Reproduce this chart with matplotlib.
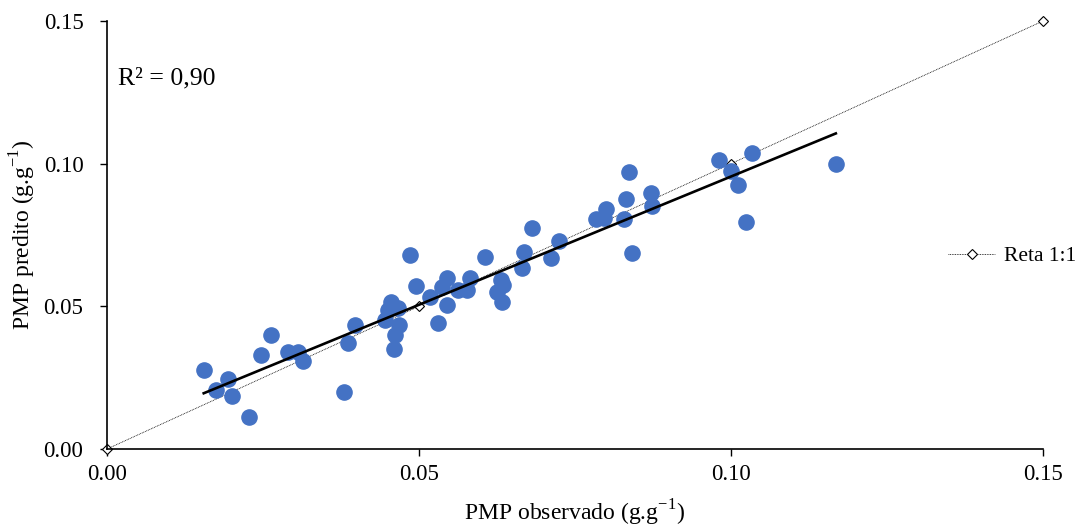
import numpy as np
import matplotlib.pyplot as plt
from matplotlib.ticker import FormatStrFormatter

plt.rcParams['font.family'] = ['Liberation Serif', 'DejaVu Serif']
plt.rcParams['mathtext.fontset'] = 'custom'
plt.rcParams['mathtext.rm'] = 'Liberation Serif'

# ===== dados (PMP observado x predito, g.g-1) =====
observado = [0.0155, 0.0175, 0.0194, 0.0200, 0.0228, 0.0247, 0.0263, 0.0290, 0.0306, 0.0314,
             0.0380, 0.0386, 0.0397,
             0.0446, 0.0450, 0.0455, 0.0466, 0.0468, 0.0462, 0.0460,
             0.0486, 0.0495, 0.0518, 0.0530, 0.0537, 0.0545, 0.0545, 0.0563, 0.0577, 0.0582,
             0.0606, 0.0625, 0.0631, 0.0635, 0.0633, 0.0665, 0.0668, 0.0681, 0.0712, 0.0724,
             0.0784, 0.0797, 0.0800, 0.0829, 0.0832, 0.0837, 0.0841, 0.0872, 0.0873,
             0.0981, 0.1000, 0.1011, 0.1024, 0.1034, 0.1168]
predito = [0.0277, 0.0207, 0.0245, 0.0186, 0.0112, 0.0330, 0.0400, 0.0340, 0.0340, 0.0308,
           0.0200, 0.0372, 0.0435,
           0.0452, 0.0487, 0.0515, 0.0494, 0.0435, 0.0400, 0.0351,
           0.0680, 0.0571, 0.0533, 0.0442, 0.0568, 0.0599, 0.0505, 0.0557, 0.0557, 0.0599,
           0.0673, 0.0550, 0.0592, 0.0575, 0.0515, 0.0634, 0.0691, 0.0775, 0.0670, 0.0729,
           0.0806, 0.0810, 0.0841, 0.0806, 0.0876, 0.0971, 0.0687, 0.0897, 0.0852,
           0.1013, 0.0974, 0.0925, 0.0796, 0.1038, 0.0999]

reta_x = [0.0, 0.05, 0.10, 0.15]
reta_y = [0.0, 0.05, 0.10, 0.15]
r2_text = 'R² = 0,90'

# ===== ajuste linear =====
obs = np.array(observado)
pred = np.array(predito)
a, b = np.polyfit(obs, pred, 1)
xfit = np.array([obs.min(), obs.max()])

fig = plt.figure(figsize=(10.83, 5.32), dpi=100)
ax = fig.add_axes([107/1083, 1 - 449/532, 936/1083, 428/532])

ax.plot(reta_x, reta_y, color='black', lw=0.6, ls=(0, (1, 1)),
        marker='D', markersize=5, markerfacecolor='white', markeredgecolor='black',
        markeredgewidth=0.8, clip_on=False, zorder=2, label='Reta 1:1')
ax.scatter(obs, pred, s=120, color='#4472C4', zorder=3)
ax.plot(xfit, a * xfit + b, color='black', lw=1.9, zorder=4)

ax.set_xlim(0, 0.15)
ax.set_ylim(0, 0.15)
ticks = [0.0, 0.05, 0.10, 0.15]
ax.set_xticks(ticks)
ax.set_yticks(ticks)
ax.xaxis.set_major_formatter(FormatStrFormatter('%.2f'))
ax.yaxis.set_major_formatter(FormatStrFormatter('%.2f'))
ax.tick_params(axis='y', direction='out', length=5, width=1, labelsize=16.5, pad=12)
ax.tick_params(axis='x', direction='out', length=5, width=1, labelsize=16.5, pad=6)
for s in ['top', 'right']:
    ax.spines[s].set_visible(False)
for s in ['left', 'bottom']:
    ax.spines[s].set_linewidth(1.2)

ax.set_xlabel(r'PMP observado (g.g$^{\mathregular{-1}}$)', fontsize=17, labelpad=9)
ax.set_ylabel(r'PMP predito (g.g$^{\mathregular{-1}}$)', fontsize=17, labelpad=4)

ax.text(0.0018, 0.1300, r2_text, fontsize=18.5, va='center', ha='left')

fig.legend(loc='center left', bbox_to_anchor=(948/1083, 1 - 256/532), frameon=False,
           fontsize=15.5, handlelength=2.2, handletextpad=0.4, borderpad=0,
           borderaxespad=0)

fig.savefig('out.png', dpi=100)
